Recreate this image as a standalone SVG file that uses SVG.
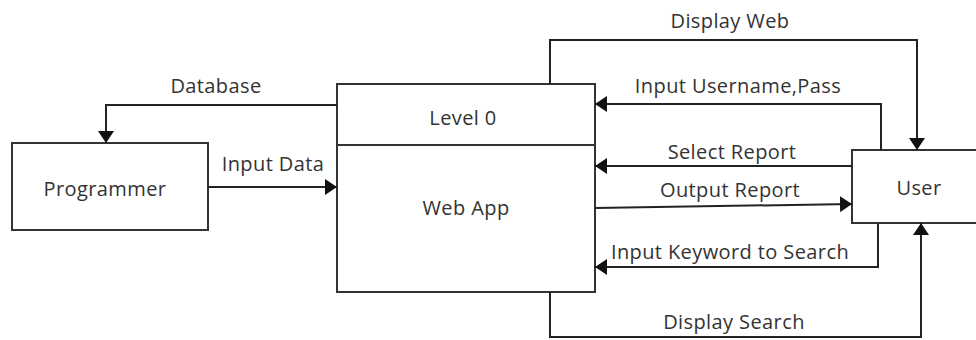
<svg xmlns="http://www.w3.org/2000/svg" width="976" height="340" viewBox="0 0 976 340">
<defs>
<marker id="ahv" viewBox="0 0 12 16" refX="12" refY="8" markerWidth="12" markerHeight="16" markerUnits="userSpaceOnUse" orient="auto">
<path d="M0,0 L12,8 L0,16 z" fill="#111"/>
</marker>
</defs>
<style>
.box{fill:#fff;stroke:#333;stroke-width:2}
.ln{fill:none;stroke:#222;stroke-width:2}
.t{font-family:"Open Sans","Liberation Sans",sans-serif;font-size:20px;letter-spacing:0.4px;fill:#333;text-anchor:middle}
</style>
<rect width="976" height="340" fill="#fff"/>
<g id="programmer">
<rect class="box" x="12" y="143" width="196" height="87"/>
<text class="t" x="105" y="196">Programmer</text>
</g>
<g id="webapp">
<rect class="box" x="337" y="84" width="258" height="208"/>
<line class="box" x1="337" y1="145" x2="595" y2="145"/>
<text class="t" x="463" y="125">Level 0</text>
<text class="t" x="466" y="215">Web App</text>
</g>
<g id="user">
<rect class="box" x="852" y="150" width="140" height="73"/>
<text class="t" x="919" y="195">User</text>
</g>
<g id="connectors">
<polyline class="ln" points="337,105 106,105 106,143" marker-end="url(#ahv)"/>
<line class="ln" x1="208" y1="187" x2="337" y2="187" marker-end="url(#ahv)"/>
<polyline class="ln" points="550,84 550,40 917,40 917,150" marker-end="url(#ahv)"/>
<polyline class="ln" points="881,150 881,104 595,104" marker-end="url(#ahv)"/>
<line class="ln" x1="852" y1="166" x2="595" y2="166" marker-end="url(#ahv)"/>
<line class="ln" x1="595" y1="208" x2="852" y2="204" marker-end="url(#ahv)"/>
<polyline class="ln" points="878,223 878,267 595,267" marker-end="url(#ahv)"/>
<polyline class="ln" points="550,292 550,337 921,337 921,223" marker-end="url(#ahv)"/>
<text class="t" x="216" y="93">Database</text>
<text class="t" x="273" y="171">Input Data</text>
<text class="t" x="730" y="28">Display Web</text>
<text class="t" x="738" y="93">Input Username,Pass</text>
<text class="t" x="732" y="159">Select Report</text>
<text class="t" x="730" y="197">Output Report</text>
<text class="t" x="730" y="259">Input Keyword to Search</text>
<text class="t" x="734" y="329">Display Search</text>
</g>
</svg>
